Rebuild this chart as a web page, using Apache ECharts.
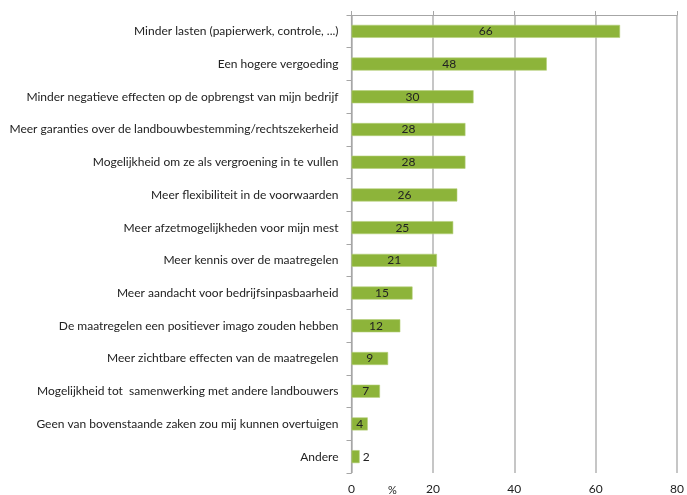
<!DOCTYPE html>
<html><head><meta charset="utf-8">
<script src="https://cdn.jsdelivr.net/npm/echarts@6/dist/echarts.min.js"></script>
<style>html,body{margin:0;padding:0;background:#fff}#c{width:687px;height:495px}</style>
</head><body><div id="c"></div>
<script>
const categories = [
  "Minder lasten (papierwerk, controle, ...)",
  "Een hogere vergoeding",
  "Minder negatieve effecten op de opbrengst van mijn bedrijf",
  "Meer garanties over de landbouwbestemming/rechtszekerheid",
  "Mogelijkheid om ze als vergroening in te vullen",
  "Meer flexibiliteit in de voorwaarden",
  "Meer afzetmogelijkheden voor mijn mest",
  "Meer kennis over de maatregelen",
  "Meer aandacht voor bedrijfsinpasbaarheid",
  "De maatregelen een positiever imago zouden hebben",
  "Meer zichtbare effecten van de maatregelen",
  "Mogelijkheid tot  samenwerking met andere landbouwers",
  "Geen van bovenstaande zaken zou mij kunnen overtuigen",
  "Andere"
];
const values = [66, 48, 30, 28, 28, 26, 25, 21, 15, 12, 9, 7, 4, 2];
const xTicks = [0, 20, 40, 60, 80];

const font = "Lato, 'Open Sans', sans-serif";
const chart = echarts.init(document.getElementById('c'), null, {renderer: 'canvas'});
const data = values.map(v => v <= 2
  ? {value: v, label: {position: 'right', distance: 3}}
  : {value: v});
chart.setOption({
  animation: false,
  grid: {left: 351.5, right: 5.5, top: 15, bottom: 20, containLabel: false},
  xAxis: [
    {type: 'value', position: 'top', min: xTicks[0], max: xTicks[xTicks.length-1], interval: 20,
     axisLine: {show: true, lineStyle: {color: '#a6a6a6', width: 1.2}},
     axisTick: {show: true, length: 4, lineStyle: {color: '#a6a6a6'}},
     axisLabel: {show: false}, splitLine: {show: false}},
    {type: 'value', position: 'bottom', min: xTicks[0], max: xTicks[xTicks.length-1], interval: 20,
     axisLine: {show: false}, axisTick: {show: false},
     axisLabel: {show: true, color: '#222', fontFamily: font, fontSize: 12, margin: 10},
     splitLine: {show: true, lineStyle: {color: '#b3b3b3', width: 1.5}}}
  ],
  yAxis: {
    type: 'category', data: categories, inverse: true,
    axisLine: {show: true, lineStyle: {color: '#a6a6a6', width: 1.2}},
    axisTick: {show: true, length: 5, lineStyle: {color: '#a6a6a6'}},
    axisLabel: {color: '#222', fontFamily: font, fontSize: 12, margin: 13}
  },
  graphic: [{type: 'text', left: 388, top: 485,
    style: {text: '%', fill: '#222', font: "11px " + font}}],
  series: [{
    type: 'bar', xAxisIndex: 0, data: data, barWidth: 13,
    itemStyle: {color: '#8db43a', borderColor: '#b5d07a', borderWidth: 0.6},
    label: {show: true, position: 'inside', color: '#222', fontFamily: font, fontSize: 12}
  }]
});
</script></body></html>
